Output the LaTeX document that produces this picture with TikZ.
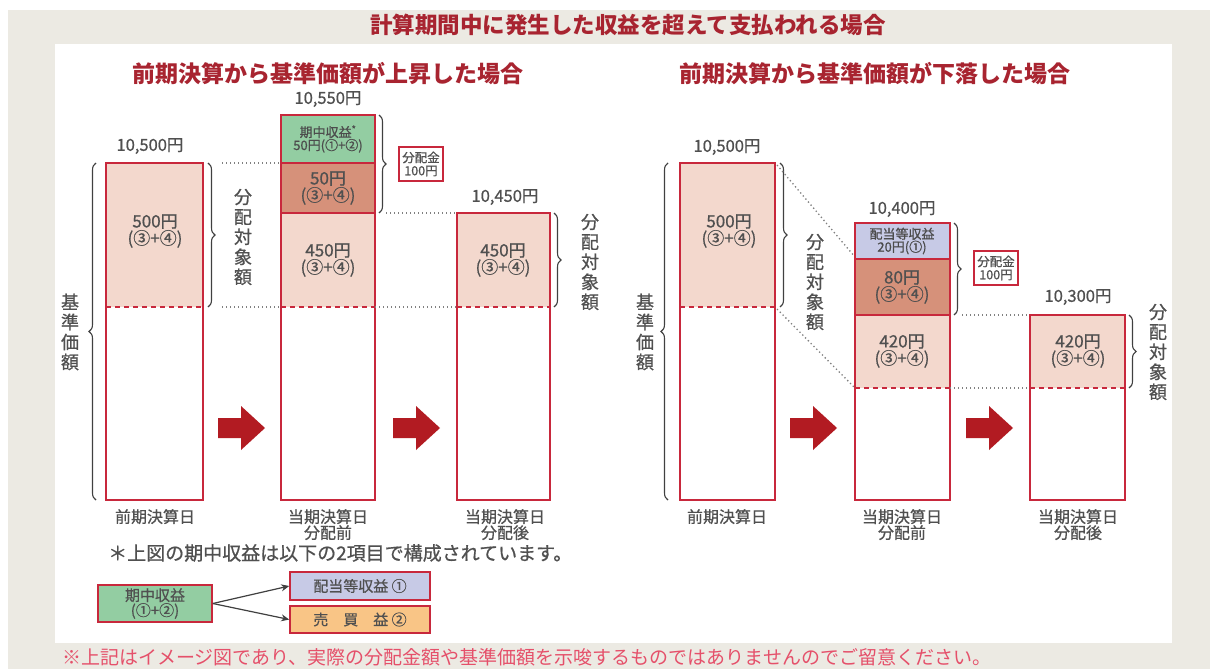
\documentclass[tikz,border=0pt]{standalone}
\usepackage{fontspec}
\setmainfont{Noto Sans CJK JP}
\newfontfamily\medf{Noto Sans CJK JP}[FakeBold=0.7]
\usetikzlibrary{decorations.pathreplacing,arrows.meta}
\definecolor{beige}{HTML}{ECEAE3}
\definecolor{barred}{HTML}{C8283C}
\definecolor{ttl}{HTML}{A82430}
\definecolor{pinkf}{HTML}{F3D8CD}
\definecolor{darkf}{HTML}{D6917A}
\definecolor{greenf}{HTML}{93CDA2}
\definecolor{bluef}{HTML}{C7CAE6}
\definecolor{orangef}{HTML}{F9C586}
\definecolor{arrred}{HTML}{B21B22}
\definecolor{txt}{HTML}{505050}
\definecolor{notec}{HTML}{E5506A}
\newcommand\blockarr[2]{\fill[arrred] (#1,#2) ++(0,-10) -- ++(23,0) -- ++(0,-12) -- ++(24,22) -- ++(-24,22) -- ++(0,-12) -- ++(-23,0) -- cycle;}
\tikzset{
  barline/.style={draw=barred, line width=1.8pt},
  dashr/.style={draw=barred, line width=1.8pt, dash pattern=on 5pt off 4pt},
  dotl/.style={draw=black!50, line width=1.3pt, dash pattern=on 1.3pt off 2.7pt},
  brc/.style={draw=black!75, line width=1.1pt, decorate, decoration={brace, amplitude=7pt}},
  val/.style={text=txt, font=\medf\fontsize{17}{16}\selectfont, align=center, inner sep=0},
  small/.style={text=black!70, font=\medf\fontsize{13}{13}\selectfont, align=center, inner sep=0},
  num/.style={text=txt, font=\medf\fontsize{16.5}{17}\selectfont, inner sep=0},
  vtxt/.style={text=txt, font=\medf\fontsize{18}{20}\selectfont, align=center, inner sep=0},
  lbl/.style={text=txt, font=\medf\fontsize{16}{16}\selectfont, align=center, inner sep=0, anchor=north},
  sub/.style={text=ttl, font=\bfseries\fontsize{23}{24}\selectfont, inner sep=0},
  kbox/.style={draw=barred, line width=1.6pt, fill=white, text=txt, font=\medf\fontsize{12.5}{13}\selectfont, align=center, inner sep=0, minimum width=44pt, minimum height=34pt},
  lbox/.style={draw=barred, line width=1.6pt, text=txt, font=\medf\fontsize{15}{15}\selectfont, align=center, inner sep=0},
}
\begin{document}
\begin{tikzpicture}[x=1pt,y=-1pt]
\useasboundingbox (0,0) rectangle (1210,669);
\fill[white] (0,0) rectangle (1210,669);
\fill[beige] (8,10) rectangle (1210,669);
\fill[white] (55,44) rectangle (1172,643);
\node[text=ttl, font=\bfseries\fontsize{22.5}{23}\selectfont, inner sep=0] (title) at (628,25) {計算期間中に発生した収益を超えて支払われる場合};
\node[sub] (subL) at (328,74) {前期決算から基準価額が上昇した場合};
\node[sub] (subR) at (875,74) {前期決算から基準価額が下落した場合};

% ===== Left panel =====
% bar 1
\fill[pinkf] (106,163) rectangle (203,307);
\draw[dashr] (106,307) -- (203,307);
\draw[barline] (106,163) rectangle (203,500);
\node[num] (v1) at (150,146) {10,500円};
\node[val] (t1) at (155,231) {500円\\[1pt](③+④)};
\draw[brc] (96,500) -- (96,163);
\node[vtxt] (k1) at (70,332) {基\\準\\価\\額};
\draw[brc] (208,163) -- (208,307);
\node[vtxt] (b1) at (243,237) {分\\配\\対\\象\\額};
\draw[dotl] (222,163) -- (281,163);
\draw[dotl] (222,307) -- (281,307);
% bar 2
\fill[greenf] (281,115) rectangle (375,163);
\fill[darkf] (281,163) rectangle (375,213);
\fill[pinkf] (281,213) rectangle (375,307);
\draw[barline] (281,163) -- (375,163);
\draw[barline] (281,213) -- (375,213);
\draw[dashr] (281,307) -- (375,307);
\draw[barline] (281,115) rectangle (375,500);
\node[num] (v2) at (328,99) {10,550円};
\node[small] (t2a) at (328,139) {期中収益\textsuperscript{*}\\50円(①+②)};
\node[val] (t2b) at (328,188) {50円\\[1pt](③+④)};
\node[val] (t2c) at (328,260) {450円\\[1pt](③+④)};
\draw[brc] (379,115) -- (379,213);
\node[kbox] (d1) at (421,164) {分配金\\100円};
\draw[dotl] (386,213) -- (457,213);
\draw[dotl] (375,307) -- (457,307);
% bar 3
\fill[pinkf] (457,213) rectangle (550,307);
\draw[dashr] (457,307) -- (550,307);
\draw[barline] (457,213) rectangle (550,500);
\node[num] (v3) at (505,197) {10,450円};
\node[val] (t3) at (503,260) {450円\\[1pt](③+④)};
\draw[brc] (554,213) -- (554,307);
\node[vtxt] (b3) at (590,262) {分\\配\\対\\象\\額};
\blockarr{218}{428}
\blockarr{393}{428}
\node[lbl] (l1) at (155,509) {前期決算日};
\node[lbl] (l2) at (328,509) {当期決算日\\分配前};
\node[lbl] (l3) at (505,509) {当期決算日\\分配後};

% footnote
\node[text=txt, font=\medf\fontsize{19}{20}\selectfont, anchor=west, inner sep=0] (fn) at (108,553) {＊上図の期中収益は以下の2項目で構成されています。};
\node[lbox, fill=greenf, minimum width=114pt, minimum height=37pt] (q) at (155,603.5) {期中収益\\(①+②)};
\node[lbox, fill=bluef, minimum width=140pt, minimum height=28pt] (dv) at (360,586) {配当等収益 ①};
\node[lbox, fill=orangef, minimum width=140pt, minimum height=27pt] (sv) at (360,619.5) {売\hspace{1em}買\hspace{1em}益 ②};
\draw[black!75, line width=1.2pt, -{Stealth[length=8pt,width=7pt]}] (q.east) -- (dv.west);
\draw[black!75, line width=1.2pt, -{Stealth[length=8pt,width=7pt]}] (q.east) -- (sv.west);

% ===== Right panel =====
% bar 4
\fill[pinkf] (680,163) rectangle (775,307);
\draw[dashr] (680,307) -- (775,307);
\draw[barline] (680,163) rectangle (775,500);
\node[num] (v4) at (727,147) {10,500円};
\node[val] (t4) at (729,231) {500円\\[1pt](③+④)};
\draw[brc] (668,500) -- (668,163);
\node[vtxt] (k4) at (645,332) {基\\準\\価\\額};
\draw[brc] (780,163) -- (780,307);
\node[vtxt] (b4) at (815,282) {分\\配\\対\\象\\額};
\draw[dotl] (777,165) -- (855,257);
\draw[dotl] (777,309) -- (855,388);
% bar 5
\fill[bluef] (855,223) rectangle (950,259);
\fill[darkf] (855,259) rectangle (950,315);
\fill[pinkf] (855,315) rectangle (950,388);
\draw[barline] (855,259) -- (950,259);
\draw[barline] (855,315) -- (950,315);
\draw[dashr] (855,388) -- (950,388);
\draw[barline] (855,223) rectangle (950,500);
\node[num] (v5) at (902,209) {10,400円};
\node[small] (t5a) at (902,241) {配当等収益\\20円(①)};
\node[val] (t5b) at (902,287) {80円\\[1pt](③+④)};
\node[val] (t5c) at (902,351) {420円\\[1pt](③+④)};
\draw[brc] (954,223) -- (954,315);
\node[kbox] (d2) at (996,268) {分配金\\100円};
\draw[dotl] (962,315) -- (1030,315);
\draw[dotl] (950,388) -- (1030,388);
% bar 6
\fill[pinkf] (1030,315) rectangle (1125,388);
\draw[dashr] (1030,388) -- (1125,388);
\draw[barline] (1030,315) rectangle (1125,500);
\node[num] (v6) at (1078,297) {10,300円};
\node[val] (t6) at (1078,351) {420円\\[1pt](③+④)};
\draw[brc] (1129,315) -- (1129,388);
\node[vtxt] (b6) at (1158,352) {分\\配\\対\\象\\額};
\blockarr{790}{428}
\blockarr{966}{428}
\node[lbl] (l4) at (727,509) {前期決算日};
\node[lbl] (l5) at (902,509) {当期決算日\\分配前};
\node[lbl] (l6) at (1078,509) {当期決算日\\分配後};

\node[text=notec, font=\fontsize{19}{20}\selectfont, anchor=west, inner sep=0] (note) at (62,657) {※上記はイメージ図であり、実際の分配金額や基準価額を示唆するものではありませんのでご留意ください。};
\end{tikzpicture}
\end{document}
